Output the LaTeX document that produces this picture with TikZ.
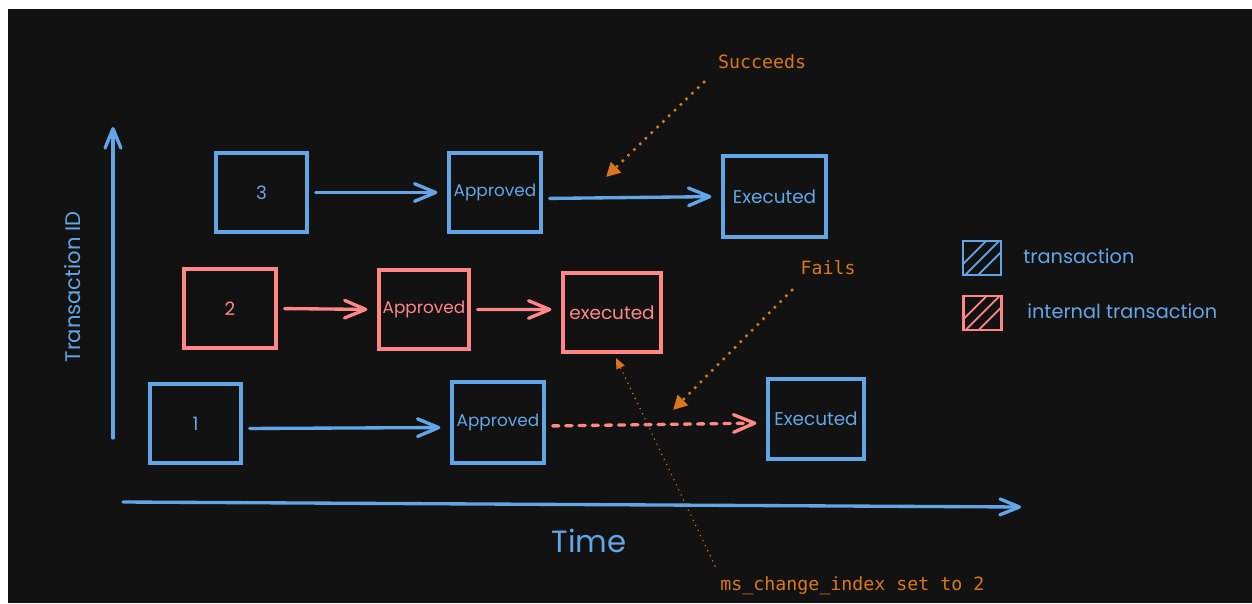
\documentclass[tikz,border=0pt]{standalone}
\usepackage{fontspec}
\setmainfont{Poppins}
\newfontfamily\codefont{DejaVu Sans Mono}
\usetikzlibrary{arrows.meta,calc}
\definecolor{bg}{HTML}{121212}
\definecolor{txblue}{HTML}{62A6E8}
\definecolor{txred}{HTML}{FF8787}
\definecolor{note}{HTML}{D9771A}
\begin{document}
\begin{tikzpicture}[x=0.02cm,y=-0.02cm,
  box/.style={draw=#1, text=#1, line width=1.9pt, inner sep=0pt,
    font=\fontsize{10.5}{12}\selectfont},
  small/.style={font=\fontsize{9.6}{12}\selectfont},
  flow/.style={draw=#1, line width=1.9pt, line cap=round,
    -{Straight Barb[length=12pt,width=10pt,line width=1.9pt,round]},
    shorten <=0.14cm, shorten >=0.2cm},
  axisline/.style={draw=txblue, line width=1.9pt, line cap=round,
    -{Straight Barb[length=11pt,width=9pt,line width=1.9pt,round]}},
  notetext/.style={text=note, font=\codefont\fontsize{10.4}{12}\selectfont},
  notearrow/.style={draw=note, line width=2pt, line cap=round,
    dash pattern=on 0pt off 4.6pt, -{Triangle[length=8pt,width=8pt]}},
  thinnote/.style={draw=note, line width=0.9pt, line cap=round,
    dash pattern=on 0pt off 3.2pt, -{Triangle[length=6pt,width=5pt]}},
  legendbox/.style={draw=#1, line width=1.6pt, inner sep=0pt,
    minimum width=0.76cm, minimum height=0.68cm,
    path picture={\foreach \k in {-13,0,13}{
      \draw[#1, line width=1pt]
        ($(path picture bounding box.center)+({\k-25},25)$) --
        ($(path picture bounding box.center)+({\k+25},-25)$);}}},
  legendtext/.style={text=txblue, anchor=west, inner sep=0pt,
    font=\fontsize{11}{13}\selectfont}
]
% canvas
\fill[white] (0,0) rectangle (1252,603);
\fill[bg] (8,9) rectangle (1252,603);
\useasboundingbox (0,0) rectangle (1252,603);

% axes
\coordinate (ybot) at (113,438);
\coordinate (ytop) at (113,127);
\coordinate (xleft) at (123,502);
\coordinate (xright) at (1021,507);
\draw[axisline] (ybot) -- (ytop);
\draw[axisline] (xleft) -- (xright);
\node[text=txblue, rotate=90, font=\fontsize{12}{14}\selectfont] (ylab) at (73,287) {Transaction ID};
\node[text=txblue, font=\fontsize{17.5}{20}\selectfont] (xlab) at (589,541) {Time};

% transaction 3
\node[box=txblue, minimum width=1.82cm, minimum height=1.58cm] (b3) at (261.5,192.5) {3};
\node[box=txblue, small, minimum width=1.84cm, minimum height=1.58cm] (a3) at (495,192.5) {Approved};
\node[box=txblue, minimum width=2.06cm, minimum height=1.62cm] (e3) at (774.5,196.5) {Executed};
\draw[flow=txblue] (b3.east) -- (a3.west);
\draw[flow=txblue] ([yshift=-0.12cm]a3.east) -- (e3.west);

% internal transaction 2
\node[box=txred, minimum width=1.84cm, minimum height=1.58cm] (b2) at (230,308.5) {2};
\node[box=txred, small, minimum width=1.80cm, minimum height=1.58cm] (a2) at (424,309.5) {Approved};
\node[box=txred, minimum width=1.96cm, minimum height=1.58cm] (e2) at (612,312.5) {executed};
\draw[flow=txred] (b2.east) -- (a2.west);
\draw[flow=txred] (a2.east) -- ([yshift=0.06cm]e2.west);

% transaction 1
\node[box=txblue, minimum width=1.82cm, minimum height=1.58cm] (b1) at (195.5,423.5) {1};
\node[box=txblue, small, minimum width=1.84cm, minimum height=1.62cm] (a1) at (498,422.5) {Approved};
\node[box=txblue, minimum width=1.92cm, minimum height=1.60cm] (e1) at (816,419) {Executed};
\draw[flow=txblue] ([yshift=-0.1cm]b1.east) -- ([yshift=-0.1cm]a1.west);
\draw[flow=txred, dash pattern=on 3.5pt off 4pt] ([yshift=-0.07cm]a1.east) -- ([yshift=-0.08cm]e1.west);

% notes
\node[notetext] (succ) at (762,62) {Succeeds};
\coordinate (succfrom) at (704,82);
\coordinate (succto) at (606,177);
\draw[notearrow] (succfrom) -- (succto);

\node[notetext] (fails) at (828,268) {Fails};
\coordinate (failsfrom) at (792,290);
\coordinate (failsto) at (673,410);
\draw[notearrow] (failsfrom) -- (failsto);

\node[notetext, anchor=west, inner sep=0pt] (msidx) at (720,586) {ms\_change\_index set to 2};
\coordinate (msfrom) at (715,566);
\coordinate (msto) at (616,358);
\draw[thinnote] (msfrom) -- (msto);

% legend
\node[legendbox=txblue] (lg1) at (982,258) {};
\node[legendtext] (lt1) at (1023,256) {transaction};
\node[legendbox=txred] (lg2) at (982.5,313) {};
\node[legendtext] (lt2) at (1027,311) {internal transaction};
\end{tikzpicture}
\end{document}
